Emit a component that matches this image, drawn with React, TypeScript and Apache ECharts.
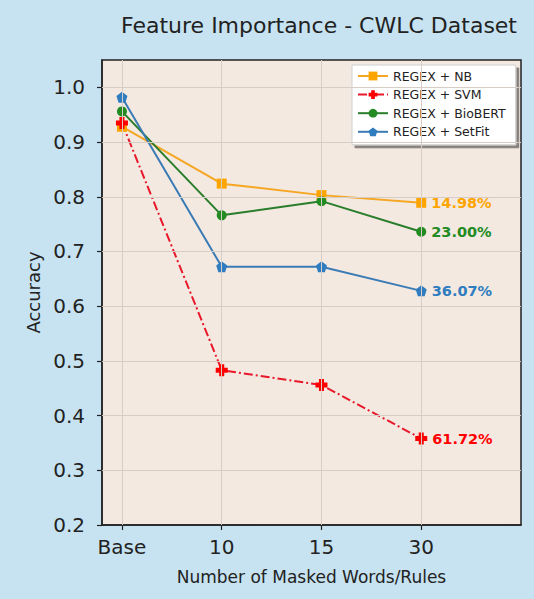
import React, { useEffect, useRef } from "react";
import * as echarts from "echarts";

// Masking levels on the x axis
const categories = ["Base", "10", "15", "30"];
const xPositions = [0, 1, 2, 3];

// Accuracy per model at each masking level
const nbValues = [0.928, 0.824, 0.803, 0.789];
const svmValues = [0.935, 0.483, 0.456, 0.358];
const biobertValues = [0.956, 0.766, 0.792, 0.736];
const setfitValues = [0.982, 0.672, 0.672, 0.628];

// Relative drop from Base to 30 masked words
const dropLabels = ["14.98%", "61.72%", "23.00%", "36.07%"];

const seriesNames = ["REGEX + NB", "REGEX + SVM", "REGEX + BioBERT", "REGEX + SetFit"];

const yTicks = [0.2, 0.3, 0.4, 0.5, 0.6, 0.7, 0.8, 0.9, 1.0];

const FONT = "DejaVu Sans";

const PENTAGON = "path://M0,-1 L0.951,-0.309 L0.588,0.809 L-0.588,0.809 L-0.951,-0.309 Z";
const PLUS_FILLED =
  "path://M-0.42,-1 L0.42,-1 L0.42,-0.42 L1,-0.42 L1,0.42 L0.42,0.42 L0.42,1 L-0.42,1 L-0.42,0.42 L-1,0.42 L-1,-0.42 L-0.42,-0.42 Z";

function buildSeries(
  name: string,
  values: number[],
  label: string,
  color: string,
  lineColor: string,
  symbol: string,
  symbolSize: number,
  lineType: any
) {
  const data = values.map((v, i) => {
    const point: any = { value: [xPositions[i], v] };
    if (i === values.length - 1) {
      point.label = {
        show: true,
        position: "right",
        distance: 5,
        formatter: label,
        color,
        fontFamily: FONT,
        fontWeight: "bold",
        fontSize: 14.5,
      };
    }
    return point;
  });
  return {
    name,
    type: "line",
    data,
    symbol,
    symbolSize,
    showAllSymbol: true,
    itemStyle: { color },
    lineStyle: { color: lineColor, width: 2, type: lineType },
    emphasis: { disabled: true },
  };
}

export default function App() {
  const ref = useRef<HTMLDivElement>(null);

  useEffect(() => {
    if (!ref.current) return;
    const chart = echarts.init(ref.current, undefined, { renderer: "svg" });
    chart.setOption({
      animation: false,
      backgroundColor: "#c7e3f1",
      title: {
        text: "Feature Importance - CWLC Dataset",
        left: 314,
        top: 9,
        textAlign: "center",
        textStyle: { fontFamily: FONT, fontSize: 22, fontWeight: "normal", color: "#222" },
      },
      legend: {
        orient: "vertical",
        left: 352,
        top: 65,
        padding: [4, 10, 6, 5],
        itemWidth: 30,
        itemHeight: 11,
        itemGap: 4.6,
        backgroundColor: "#ffffff",
        borderColor: "#d0d0d0",
        borderWidth: 1,
        shadowColor: "rgba(0,0,0,0.45)",
        shadowOffsetX: 3,
        shadowOffsetY: 3,
        shadowBlur: 0,
        textStyle: { fontFamily: FONT, fontSize: 12.5, lineHeight: 14, color: "#222" },
        data: seriesNames,
      },
      grid: {
        left: 102,
        top: 60,
        right: 13,
        bottom: 74,
        show: true,
        backgroundColor: "#f3e9e1",
        borderColor: "#222",
        borderWidth: 1.5,
      },
      xAxis: {
        type: "value",
        min: -0.2,
        max: 4.0,
        name: "Number of Masked Words/Rules",
        nameLocation: "middle",
        nameGap: 43,
        nameTextStyle: { fontFamily: FONT, fontSize: 17, color: "#222" },
        axisLine: { show: true, onZero: false, lineStyle: { color: "#222", width: 1.5 } },
        axisTick: { show: true, customValues: xPositions, length: 5, lineStyle: { color: "#222", width: 1.2 } },
        axisLabel: {
          customValues: xPositions,
          formatter: (v: number) => categories[Math.round(v)] ?? "",
          fontFamily: FONT,
          fontSize: 20,
          color: "#222",
          margin: 12,
        },
        splitLine: { show: false },
      },
      yAxis: {
        type: "value",
        min: 0.2,
        max: 1.05,
        name: "Accuracy",
        nameLocation: "middle",
        nameGap: 58,
        nameTextStyle: { fontFamily: FONT, fontSize: 18, color: "#222" },
        axisLine: { show: true, onZero: false, lineStyle: { color: "#222", width: 1.5 } },
        axisTick: { show: true, customValues: yTicks, length: 5, lineStyle: { color: "#222", width: 1.2 } },
        axisLabel: {
          customValues: yTicks,
          formatter: (v: number) => v.toFixed(1),
          fontFamily: FONT,
          fontSize: 20,
          color: "#222",
          margin: 17,
        },
        splitLine: { show: false },
      },
      series: [
        // faint grid lines drawn as mark lines on a helper series
        {
          type: "line",
          data: [],
          silent: true,
          markLine: {
            silent: true,
            symbol: "none",
            label: { show: false },
            lineStyle: { color: "#d6cdc6", width: 1, type: "solid" },
            data: [
              ...xPositions.map((x) => ({ xAxis: x })),
              ...yTicks.slice(1).map((y) => ({ yAxis: y })),
            ],
          },
        },
        buildSeries(seriesNames[0], nbValues, dropLabels[0], "#ffa500", "#f5a623", "rect", 10, "solid"),
        buildSeries(seriesNames[1], svmValues, dropLabels[1], "#ff0000", "#e8182a", PLUS_FILLED, 12, [9, 3, 2, 3]),
        buildSeries(seriesNames[2], biobertValues, dropLabels[2], "#228b22", "#2a7d2a", "circle", 10, "solid"),
        buildSeries(seriesNames[3], setfitValues, dropLabels[3], "#2f7dc0", "#3b7bb5", PENTAGON, 11, "solid"),
      ],
    });
    return () => chart.dispose();
  }, []);

  return (
    <div
      ref={ref}
      style={{ position: "fixed", left: 0, top: 0, width: 534, height: 599 }}
    />
  );
}
